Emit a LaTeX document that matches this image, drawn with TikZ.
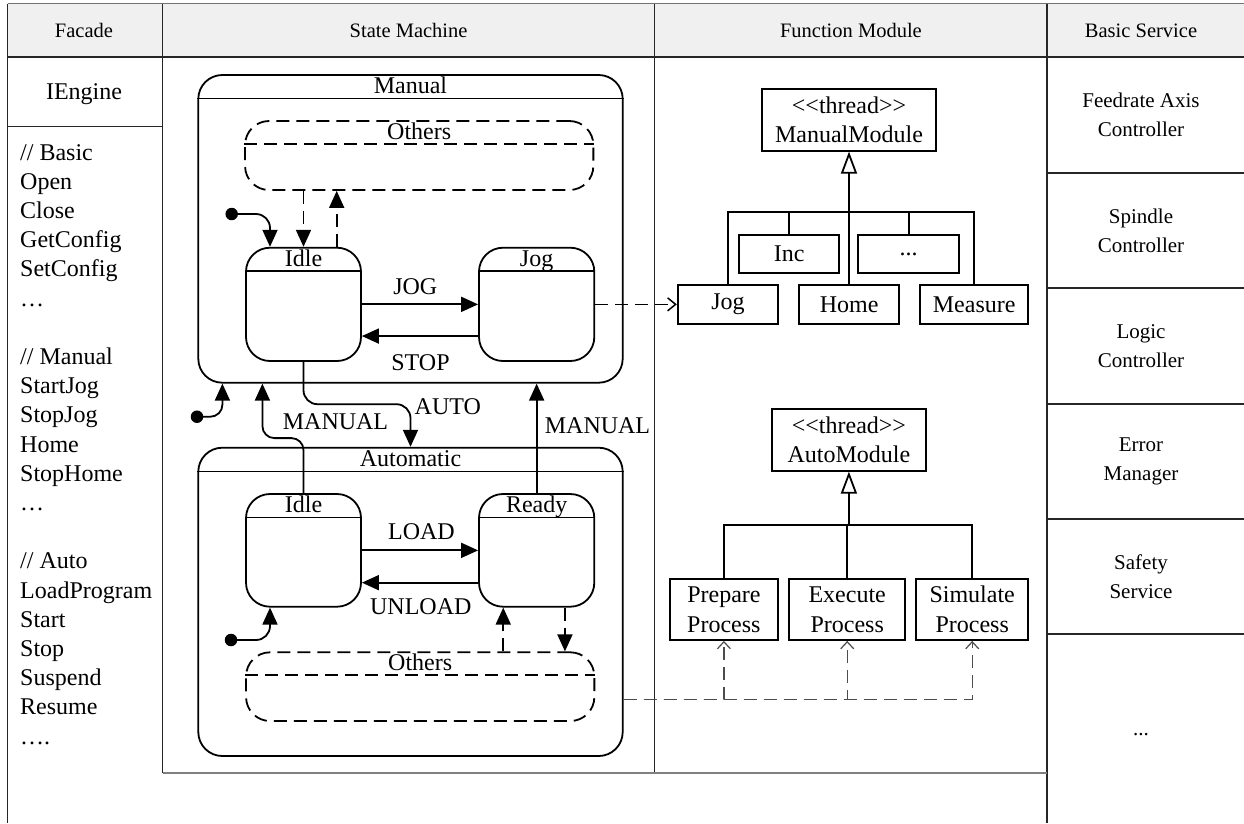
\documentclass[tikz,border=0pt]{standalone}
\usepackage{fontspec}
\setmainfont{Liberation Serif}
\usetikzlibrary{arrows.meta,calc}
\newcommand{\fsz}[2]{\fontsize{#1pt}{#2pt}\selectfont}
\begin{document}
\begin{tikzpicture}[x=1pt,y=-1pt,
  frame/.style={draw=black!85, line width=1.5pt},
  hdr/.style={anchor=base, inner sep=0pt, font=\fsz{20.5}{24}},
  lst/.style={anchor=base west, inner sep=0pt, font=\fsz{24}{29}},
  lbl/.style={anchor=base, inner sep=0pt, font=\fsz{24}{29}},
  state/.style={draw, line width=1.8pt, rounded corners=24pt, inner sep=0pt},
  others/.style={state, dash pattern=on 13pt off 7pt},
  sep/.style={line width=1.8pt},
  tr/.style={line width=1.8pt, -{Triangle[length=17pt,width=15pt]}},
  trd/.style={tr, dash pattern=on 13pt off 7pt},
  idot/.style={circle, fill, inner sep=0pt, minimum size=12.5pt},
  cls/.style={draw, line width=1.8pt, inner sep=0pt, align=center, font=\fsz{24}{28.5}},
  gen/.style={line width=1.8pt, -{Triangle[open, length=22pt, width=16pt]}},
  link/.style={line width=1.8pt},
  dep/.style={line width=1.5pt, dash pattern=on 13pt off 7pt, -{Straight Barb[length=8pt,width=13pt]}},
  depg/.style={draw=black!70, line width=1.2pt, dash pattern=on 13pt off 7pt, -{Straight Barb[length=7pt,width=13pt]}},
  svc/.style={align=center, inner sep=0pt, font=\fsz{21}{29}},
]
\useasboundingbox (0,0) rectangle (1244,823);

% ---- table frame ----
\fill[black!6] (7.7,3.5) rectangle (1244,57);
\draw[draw=black!55, line width=1.5pt] (7.7,3.5) -- (1244,3.5);
\draw[frame] (7.7,57) -- (1244,57);
\draw[frame] (7.7,3.5) -- (7.7,823);
\draw[frame] (162.5,3.5) -- (162.5,773);
\draw[frame] (654.7,3.5) -- (654.7,773);
\draw[frame] (1047,3.5) -- (1047,823);
\draw[draw=black!50, line width=2pt] (162.5,773) -- (1047,773);
\draw[frame] (7.7,126.7) -- (162.5,126.7);
\foreach \yy in {173,288,404,519,634} \draw[frame] (1047,\yy) -- (1244,\yy);

% ---- column headers ----
\node[hdr] (hfac) at (84,37) {Facade};
\node[hdr] (hsm) at (408.6,37) {State Machine};
\node[hdr] (hfm) at (850.9,37) {Function Module};
\node[hdr] (hbs) at (1141,37) {Basic Service};

% ---- facade ----
\node[lbl] (ieng) at (84,99) {IEngine};
\foreach \i/\t in {0/{// Basic},1/Open,2/Close,3/GetConfig,4/SetConfig,5/{…},
  7/{// Manual},8/StartJog,9/StopJog,10/Home,11/StopHome,12/{…},
  14/{// Auto},15/LoadProgram,16/Start,17/Stop,18/Suspend,19/Resume,20/{….}}
  \node[lst] (fc\i) at (20,{160+29.2*\i}) {\t};

% ---- basic services ----
\node[svc] (s1) at (1141,115) {Feedrate Axis\\Controller};
\node[svc] (s2) at (1141,230.5) {Spindle\\Controller};
\node[svc] (s3) at (1141,346) {Logic\\Controller};
\node[svc] (s4) at (1141,461.5) {Error\\Manager};
\node[svc] (s5) at (1141,576.5) {Safety\\Service};
\node[hdr, font=\fsz{21}{29}] (s6) at (1141,735) {...};

% ---- state machine: Manual ----
\node[state, minimum width=424.4pt, minimum height=307.7pt] (manual) at (410.5,228.85) {};
\draw[sep] ([yshift=-24.3pt]manual.north west) -- ([yshift=-24.3pt]manual.north east);
\node[lbl] (lmanual) at ([yshift=-19.3pt]manual.north) {Manual};

\node[others, minimum width=348.3pt, minimum height=69pt] (mothers) at (419.2,155.5) {};
\draw[sep, dash pattern=on 13pt off 7pt] ([yshift=-24pt]mothers.north west) -- ([yshift=-24pt]mothers.north east);
\node[lbl] (lmothers) at ([yshift=-19pt]mothers.north) {Others};

\node[state, minimum width=115pt, minimum height=113.3pt] (midle) at (303.5,304.35) {};
\draw[sep] ([yshift=-24pt]midle.north west) -- ([yshift=-24pt]midle.north east);
\node[lbl] (lmidle) at ([yshift=-19.5pt]midle.north) {Idle};

\node[state, minimum width=115.3pt, minimum height=113.3pt] (mjog) at (536.65,304.35) {};
\draw[sep] ([yshift=-24pt]mjog.north west) -- ([yshift=-24pt]mjog.north east);
\node[lbl] (lmjog) at ([yshift=-19.5pt]mjog.north) {Jog};

% ---- state machine: Automatic ----
\node[state, minimum width=424.4pt, minimum height=308.3pt] (auto) at (410.5,601.85) {};
\draw[sep] ([yshift=-24.6pt]auto.north west) -- ([yshift=-24.6pt]auto.north east);
\node[lbl] (lauto) at ([yshift=-19.6pt]auto.north) {Automatic};

\node[state, minimum width=115pt, minimum height=112.7pt] (aidle) at (303.5,550.35) {};
\draw[sep] ([yshift=-24.3pt]aidle.north west) -- ([yshift=-24.3pt]aidle.north east);
\node[lbl] (laidle) at ([yshift=-19.5pt]aidle.north) {Idle};

\node[state, minimum width=115.3pt, minimum height=112.7pt] (ready) at (536.65,550.35) {};
\draw[sep] ([yshift=-24.3pt]ready.north west) -- ([yshift=-24.3pt]ready.north east);
\node[lbl] (lready) at ([yshift=-19.5pt]ready.north) {Ready};

\node[others, minimum width=348.3pt, minimum height=68.7pt] (aothers) at (420.2,686.65) {};
\draw[sep, dash pattern=on 13pt off 7pt] ([yshift=-23.7pt]aothers.north west) -- ([yshift=-23.7pt]aothers.north east);
\node[lbl] (laothers) at ([yshift=-18.7pt]aothers.north) {Others};

% ---- initial pseudo-states ----
\node[idot] (d1) at (231.7,214) {};
\draw[tr, rounded corners=14pt] (d1.center) -| ([xshift=-33.5pt]midle.north);
\node[idot] (d2) at (231,640) {};
\draw[tr, rounded corners=14pt] (d2.center) -| ([xshift=-33.5pt]aidle.south);
\node[idot] (d3) at (197,416.7) {};
\draw[tr, rounded corners=12pt] (d3.center) -| ([xshift=25pt]manual.south west);

% ---- transitions ----
\draw[tr] (midle.east) -- (mjog.west);
\node[lbl] (tjog) at (415.3,294) {JOG};
\draw[tr] ([yshift=-31.7pt]mjog.west) -- ([yshift=-31.7pt]midle.east);
\node[lbl] (tstop) at (420.5,370) {STOP};

\draw[tr] (aidle.east) -- (ready.west);
\node[lbl] (tload) at (421.5,539.3) {LOAD};
\draw[tr] ([yshift=-32.3pt]ready.west) -- ([yshift=-32.3pt]aidle.east);
\node[lbl] (tunload) at (420.8,614) {UNLOAD};

\draw[tr, rounded corners=14pt] (midle.south) -- ++(0,42.3) -| (auto.north);
\node[lbl] (tauto) at (447.8,414) {AUTO};
\draw[tr, rounded corners=12pt] (aidle.north) -- ++(0,-55) -| ([xshift=65pt]manual.south west);
\node[lbl] (tman1) at (335.5,429.3) {MANUAL};
\draw[tr] (ready.north) -- (ready.north |- manual.south);
\node[lbl] (tman2) at (597.5,433.3) {MANUAL};

% ---- transitions to/from the Others states ----
\draw[trd] (midle.north |- mothers.south) -- (midle.north);
\draw[trd] ([xshift=33.2pt]midle.north) -- ([xshift=33.2pt]midle.north |- mothers.south);
\draw[trd] ([xshift=-33.4pt]ready.south |- aothers.north) -- ([xshift=-33.4pt]ready.south);
\draw[trd] ([xshift=28.3pt]ready.south) -- ([xshift=28.3pt]ready.south |- aothers.north);

% ---- function module: manual ----
\node[cls, minimum width=173.4pt, minimum height=61.4pt] (mmod) at (849,120) {<\kern0pt<thread>\kern0pt>\\ManualModule};
\node[cls, minimum width=100.3pt, minimum height=38.3pt] (finc) at (789.2,254.2) {Inc};
\node[cls, minimum width=100.7pt, minimum height=38.3pt] (fdots) at (908.7,254.2) {...};
\node[cls, minimum width=100.6pt, minimum height=39pt] (fjog) at (728,304.5) {Jog};
\node[cls, minimum width=100.3pt, minimum height=39pt] (fhome) at (849.2,304.5) {Home};
\node[cls, minimum width=108.3pt, minimum height=39pt] (fmeas) at (974.2,304.5) {Measure};
\coordinate (mbus) at ([yshift=-60pt]mmod.south);
\draw[gen] (mbus) -- (mmod.south);
\draw[link] (fjog.north) |- (mbus);
\draw[link] (finc.north) |- (mbus);
\draw[link] (fdots.north) |- (mbus);
\draw[link] (fmeas.north) |- (mbus);
\draw[link] (fhome.north) -- (fhome.north |- mbus);

% ---- function module: auto ----
\node[cls, minimum width=154.3pt, minimum height=61.4pt] (amod) at (848.9,440) {<\kern0pt<thread>\kern0pt>\\AutoModule};
\node[cls, minimum width=107.7pt, minimum height=61pt, font=\fsz{24}{30}] (fprep) at (723.9,609.5) {Prepare\\Process};
\node[cls, minimum width=115.7pt, minimum height=61pt, font=\fsz{24}{30}] (fexe) at (847.2,609.5) {Execute\\Process};
\node[cls, minimum width=112.3pt, minimum height=61pt, font=\fsz{24}{30}] (fsim) at (972.2,609.5) {Simulate\\Process};
\coordinate (abus) at ([yshift=-53.3pt]amod.south);
\draw[gen] (abus) -- (amod.south);
\draw[link] (fprep.north) |- (abus);
\draw[link] (fexe.north) |- (abus);
\draw[link] (fsim.north) |- (abus);

% ---- dependencies from states to modules ----
\draw[dep] (mjog.east) -- (mjog.east -| fjog.west);
\coordinate (adep) at ([yshift=-97.5pt]auto.east);
\draw[depg] (adep) -| (fprep.south);
\draw[depg] (adep) -| (fexe.south);
\draw[depg] (adep) -| (fsim.south);
\end{tikzpicture}
\end{document}
